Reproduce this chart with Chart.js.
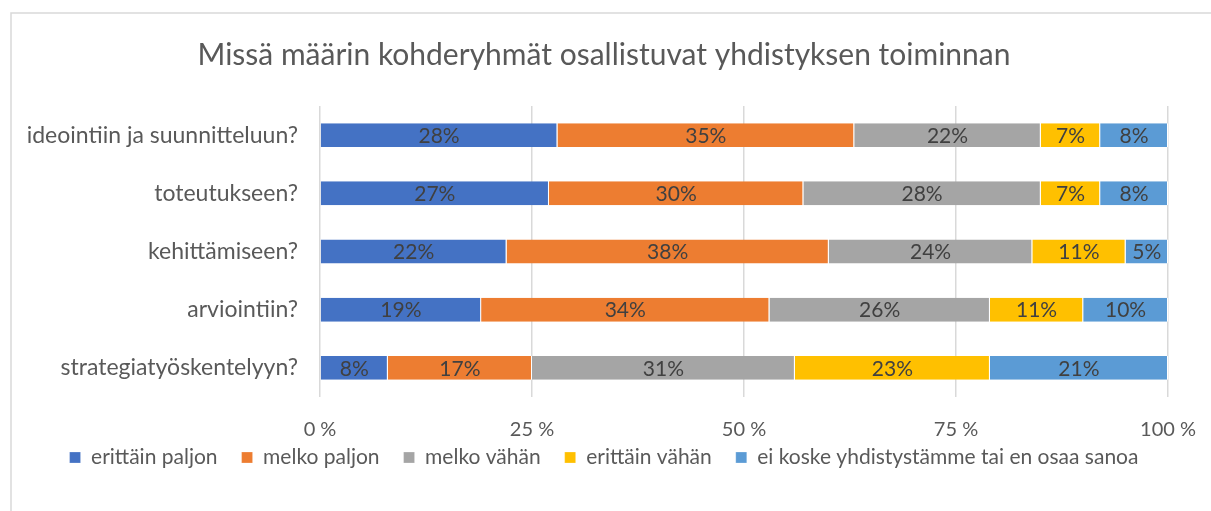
<!DOCTYPE html>
<html>
<head>
<meta charset="utf-8">
<script src="https://cdn.jsdelivr.net/npm/chart.js@4"></script>
<style>
  html, body { margin: 0; padding: 0; background: #fff; }
  #wrap { position: relative; width: 1211px; height: 511px; }
</style>
</head>
<body>
<div id="wrap"><canvas id="myChart" width="1211" height="511"></canvas></div>
<script>
const categories = ['ideointiin ja suunnitteluun?', 'toteutukseen?', 'kehittämiseen?', 'arviointiin?', 'strategiatyöskentelyyn?']
const seriesNames = ['erittäin paljon', 'melko paljon', 'melko vähän', 'erittäin vähän', 'ei koske yhdistystämme tai en osaa sanoa']
const erittainPaljon = [28, 27, 22, 19, 8]
const melkoPaljon = [35, 30, 38, 34, 17]
const melkoVahan = [22, 28, 24, 26, 31]
const erittainVahan = [7, 7, 11, 11, 23]
const eiKoske = [8, 8, 5, 10, 21]
const xTicks = [0, 25, 50, 75, 100]
const colors = ['#4472C4', '#ED7D31', '#A5A5A5', '#FFC000', '#5B9BD5']

const FONT = 'Lato, "Open Sans", sans-serif'
const allSeries = [erittainPaljon, melkoPaljon, melkoVahan, erittainVahan, eiKoske]

// frame around the chart like the office chart object
const framePlugin = {
  id: 'frame',
  beforeDraw(chart) {
    const c = chart.ctx
    c.save()
    c.strokeStyle = '#d9d9d9'
    c.lineWidth = 1.5
    c.strokeRect(11, 13, 1400, 700)
    c.restore()
  }
}

// value labels in the middle of each segment
const labelPlugin = {
  id: 'segLabels',
  afterDatasetsDraw(chart) {
    const c = chart.ctx
    c.save()
    c.font = '21px ' + FONT
    c.fillStyle = '#404040'
    c.textAlign = 'center'
    c.textBaseline = 'middle'
    chart.data.datasets.forEach((ds, i) => {
      const meta = chart.getDatasetMeta(i)
      meta.data.forEach((bar, j) => {
        const p = bar.getProps(['x', 'y', 'base'], true)
        c.fillText(ds.data[j] + '%', (p.x + p.base) / 2, p.y + 1)
      })
    })
    c.restore()
  }
}

var ctx = document.getElementById('myChart').getContext('2d');
var myChart = new Chart(ctx, {
  type: 'bar',
  data: {
    labels: categories,
    datasets: allSeries.map((d, i) => ({
      label: seriesNames[i],
      data: d,
      backgroundColor: colors[i],
      borderColor: '#ffffff',
      borderWidth: {left: 0, right: 1, top: 0, bottom: 0},
      borderSkipped: false,
      barPercentage: 0.41,
      categoryPercentage: 1
    }))
  },
  options: {
    indexAxis: 'y',
    responsive: false,
    animation: false,
    layout: { padding: { left: 40, right: 43, top: 27, bottom: 33 } },
    scales: {
      x: {
        stacked: true,
        min: 0,
        max: 100,
        afterBuildTicks: (s) => { s.ticks = xTicks.map(v => ({value: v})) },
        // squeeze the axis box, let tick labels spill below it
        afterFit: (s) => {
          s.height = 26
          s.paddingLeft = 0
          s.paddingRight = 0
          s._computeLabelArea = () => undefined
        },
        ticks: {
          color: '#595959',
          font: { family: FONT, size: 20 },
          padding: 21,
          callback: (v) => v + ' %'
        },
        grid: { color: '#d9d9d9', lineWidth: 1.5, drawTicks: false },
        border: { display: false }
      },
      y: {
        stacked: true,
        afterFit: (s) => { s.width = 280; s._computeLabelArea = () => undefined },
        ticks: {
          color: '#595959',
          font: { family: FONT, size: 23 },
          padding: 22
        },
        grid: { display: false, drawTicks: false },
        border: { display: false }
      }
    },
    plugins: {
      title: {
        display: true,
        text: 'Missä määrin kohderyhmät osallistuvat yhdistyksen toiminnan',
        color: '#595959',
        font: { family: FONT, size: 30, weight: 'normal' },
        padding: { top: 10, bottom: 33 }
      },
      legend: {
        position: 'bottom',
        labels: {
          color: '#595959',
          font: { family: FONT, size: 21 },
          boxWidth: 11,
          boxHeight: 11,
          padding: 24
        }
      },
      tooltip: { enabled: false }
    }
  },
  plugins: [framePlugin, labelPlugin]
});
</script>
</body>
</html>
